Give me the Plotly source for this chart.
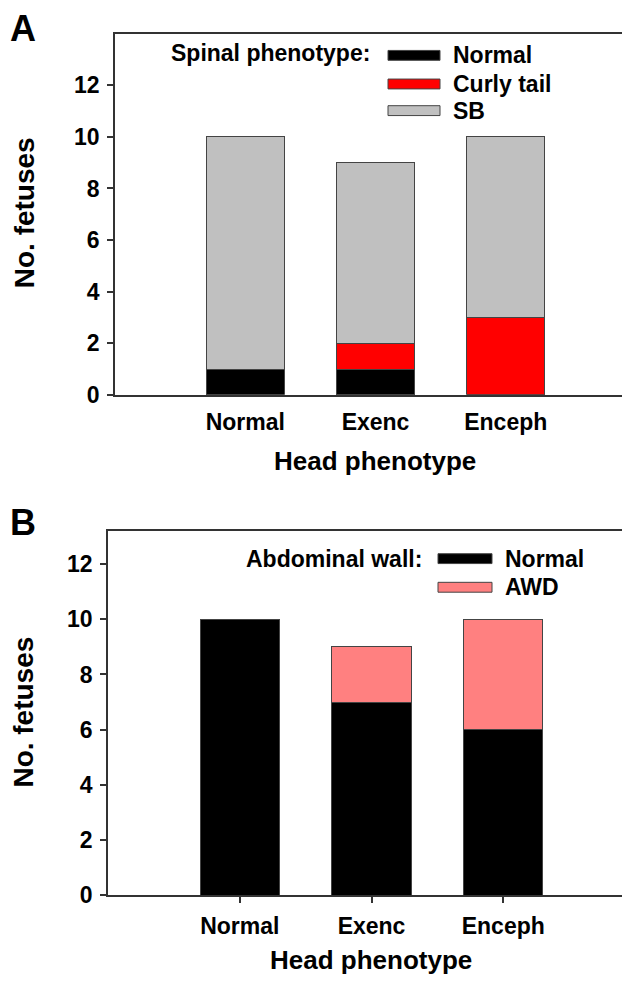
import plotly.graph_objects as go

W, H = 630, 986

categories = ["Normal", "Exenc", "Enceph"]
xpos = [0, 1, 2]

# Panel A: spinal phenotype counts
spinal_normal = [1, 1, 0]
spinal_curly = [0, 1, 3]
spinal_sb = [9, 7, 7]

# Panel B: abdominal wall counts
abd_normal = [10, 7, 6]
abd_awd = [0, 2, 4]

yticks = [0, 2, 4, 6, 8, 10, 12]

FONT = "Liberation Sans, Arial, sans-serif"
LINE = "#333333"

def px_x(x):
    return x / W

def px_y(y):
    return 1 - y / H

fig = go.Figure()

bar_line = dict(color="#444444", width=1)

fig.add_trace(go.Bar(x=xpos, y=spinal_normal, marker=dict(color="#000000", line=bar_line),
                     width=0.6, xaxis="x", yaxis="y", showlegend=False))
fig.add_trace(go.Bar(x=xpos, y=spinal_curly, marker=dict(color="#FF0000", line=bar_line),
                     width=0.6, xaxis="x", yaxis="y", showlegend=False))
fig.add_trace(go.Bar(x=xpos, y=spinal_sb, marker=dict(color="#C0C0C0", line=bar_line),
                     width=0.6, xaxis="x", yaxis="y", showlegend=False))

fig.add_trace(go.Bar(x=xpos, y=abd_normal, marker=dict(color="#000000", line=bar_line),
                     width=0.6, xaxis="x2", yaxis="y2", showlegend=False))
fig.add_trace(go.Bar(x=xpos, y=abd_awd, marker=dict(color="#FF8080", line=bar_line),
                     width=0.6, xaxis="x2", yaxis="y2", showlegend=False))

tickfont = dict(family=FONT, size=23, color="#000000", weight="bold")

common_y = dict(showline=True, linecolor=LINE, linewidth=1.5, mirror=True,
                ticks="outside", ticklen=6, tickcolor=LINE, tickwidth=1.5,
                tickvals=yticks, showgrid=False, zeroline=False,
                tickfont=tickfont, fixedrange=True, ticklabelstandoff=3)

fig.update_layout(
    width=W, height=H,
    margin=dict(l=0, r=0, t=0, b=0),
    paper_bgcolor="white", plot_bgcolor="white",
    barmode="stack", bargap=0.4,
    xaxis=dict(domain=[px_x(107), px_x(628)], anchor="y", range=[-1, 3],
               tickvals=xpos, ticktext=categories, ticks="",
               showline=True, linecolor=LINE, linewidth=1.5, mirror=True,
               showgrid=False, zeroline=False, tickfont=tickfont,
               ticklabelstandoff=6),
    yaxis=dict(domain=[px_y(392), px_y(26)], anchor="x", range=[0, 14], **common_y),
    xaxis2=dict(domain=[px_x(100), px_x(627)], anchor="y2", range=[-1, 3],
                tickvals=xpos, ticktext=categories, ticks="outside", ticklen=6,
                tickcolor=LINE, tickwidth=1.5,
                showline=True, linecolor=LINE, linewidth=1.5, mirror=True,
                showgrid=False, zeroline=False, tickfont=tickfont,
                ticklabelstandoff=4),
    yaxis2=dict(domain=[px_y(899), px_y(530)], anchor="x2", range=[0, 13.2], **common_y),
)

ann_font = dict(family=FONT, size=23, color="#000000", weight="bold")
xtitle_font = dict(family=FONT, size=26, color="#000000", weight="bold")
ytitle_font = dict(family=FONT, size=28, color="#000000", weight="bold")
panel_font = dict(family=FONT, size=36, color="#000000", weight="bold")

annotations = []

def text(x, y, s, font, xanchor="center", yanchor="middle", angle=0):
    annotations.append(dict(x=px_x(x), y=px_y(y), xref="paper", yref="paper",
                            text=s, showarrow=False, font=font,
                            xanchor=xanchor, yanchor=yanchor, textangle=angle))

# panel letters
text(0, 21, "A", panel_font, xanchor="left")
text(0, 521, "B", panel_font, xanchor="left")

# axis titles
text(16, 208, "No. fetuses", ytitle_font, angle=-90)
text(16, 714, "No. fetuses", ytitle_font, angle=-90)
text(367, 459, "Head phenotype", xtitle_font)
text(363, 965, "Head phenotype", xtitle_font)

# legend A
text(364, 46, "Spinal phenotype:", ann_font, xanchor="right")
legA_labels = ["Normal", "Curly tail", "SB"]
legA_colors = ["#000000", "#FF0000", "#C0C0C0"]
legA_rows = [48, 77, 104]

# legend B
text(416, 558, "Abdominal wall:", ann_font, xanchor="right")
legB_labels = ["Normal", "AWD"]
legB_colors = ["#000000", "#FF8080"]
legB_rows = [558, 587]

shapes = []
for lab, col, yy in zip(legA_labels, legA_colors, legA_rows):
    shapes.append(dict(type="rect", xref="paper", yref="paper",
                       x0=px_x(380), x1=px_x(432), y0=px_y(yy - 5), y1=px_y(yy + 5),
                       fillcolor=col, line=dict(color="#444444", width=1)))
    text(443, yy, lab, ann_font, xanchor="left")

for lab, col, yy in zip(legB_labels, legB_colors, legB_rows):
    shapes.append(dict(type="rect", xref="paper", yref="paper",
                       x0=px_x(430), x1=px_x(484), y0=px_y(yy - 5), y1=px_y(yy + 5),
                       fillcolor=col, line=dict(color="#444444", width=1)))
    text(495, yy, lab, ann_font, xanchor="left")

fig.update_layout(annotations=annotations, shapes=shapes)

fig.write_html("out.html")
